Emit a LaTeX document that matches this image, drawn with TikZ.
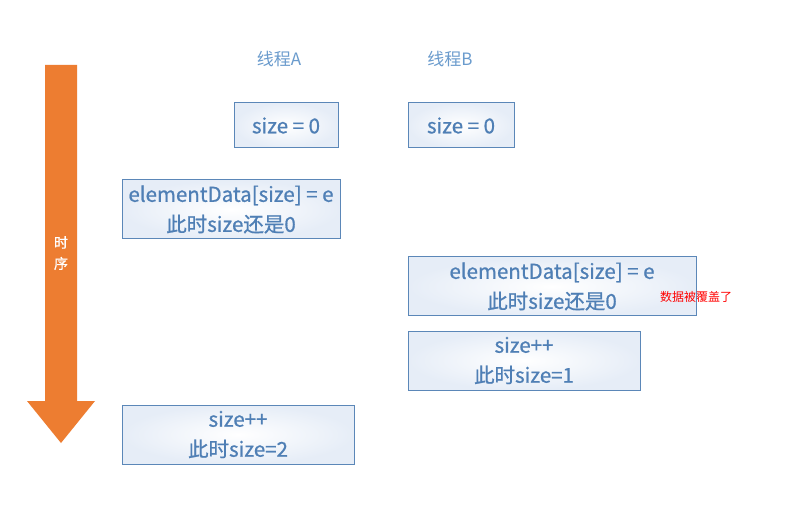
\documentclass[tikz,border=0pt]{standalone}
\usepackage{fontspec}
\setmainfont{Noto Sans CJK SC}
\newfontfamily\boxfont{Noto Sans CJK SC}[FakeBold=0.8]
\usepackage{tikz}
\definecolor{stepblue}{HTML}{4F7FB5}
\definecolor{edgeblue}{HTML}{5B87B8}
\definecolor{headblue}{HTML}{6A9BCD}
\definecolor{fillblue}{HTML}{E6EDF7}
\definecolor{timeorange}{HTML}{ED7D31}
\tikzset{
    opbox/.style={draw=edgeblue, line width=1pt, inner color=white, outer color=fillblue,
        inner sep=0pt, align=center, text=stepblue, font=\boxfont\fontsize{20.5}{30}\selectfont},
    threadlabel/.style={text=headblue, font=\fontsize{17}{20}\selectfont},
    warnlabel/.style={text=red, font=\fontsize{12}{14}\selectfont}}

\begin{document}
\begin{tikzpicture}[x=1pt, y=-1pt]
            \useasboundingbox[fill=white] (0,0) rectangle (789,526);

            % time arrow
            \fill[timeorange] (45,65) -- (77,65) -- (77,401) -- (95,401) -- (61,443) -- (27,401) -- (45,401) -- cycle;
            \node[text=white, align=center, font=\boxfont\fontsize{14}{21}\selectfont] (time) at (61,253) {时\\序};

            \node[threadlabel] (ta) at (279,59) {线程A};
            \node[threadlabel] (tb) at (450,59) {线程B};

            \node[opbox, minimum width=104, minimum height=45] (a1) at (286,125.5) {size = 0};
            \node[opbox, minimum width=106, minimum height=45] (b1) at (461,125.5) {size = 0};
            \node[opbox, minimum width=218, minimum height=59] (a2) at (231,209.5) {elementData[size] = e\\此时size还是0};
            \node[opbox, minimum width=288, minimum height=59] (b2) at (552,286.5) {elementData[size] = e\\此时size还是0};
            \node[opbox, minimum width=232, minimum height=59] (b3) at (524,360.5) {size++\\此时size=1};
            \node[opbox, minimum width=232, minimum height=59] (a3) at (238,434.5) {size++\\此时size=2};

            \node[warnlabel] (cover) at (696,297) {数据被覆盖了};

        \end{tikzpicture}
\end{document}
